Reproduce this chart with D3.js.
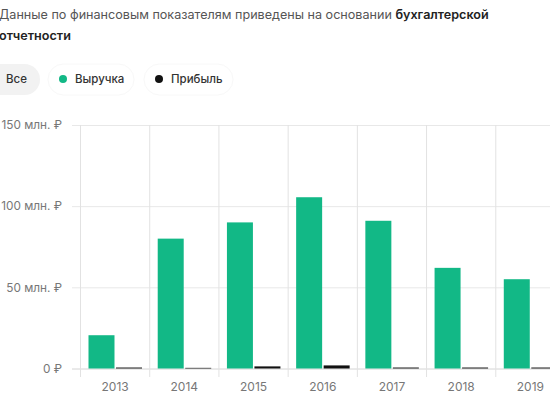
<!DOCTYPE html>
<html>
<head>
<meta charset="utf-8">
<script src="https://cdnjs.cloudflare.com/ajax/libs/d3/7.8.5/d3.min.js"></script>
<style>
  html, body { margin: 0; padding: 0; background: #fff; overflow: hidden; }
  svg { display: block; font-family: Inter, "Noto Sans", sans-serif; }
</style>
</head>
<body>
<svg id="chart" width="550" height="412"></svg>
<script>
var years = ['2013', '2014', '2015', '2016', '2017', '2018', '2019'];
var revenue = [20.5, 80, 90, 105.5, 91, 62, 55];
var profit = [0.6, 0.4, 1.3, 1.9, 0.6, 0.6, 0.6];
var yTicks = [0, 50, 100, 150];
var seriesNames = ['Выручка', 'Прибыль'];
var seriesColors = ['#12b886', '#111111'];

var svg = d3.select('#chart');

// top text
var intro = svg.append('text').attr('x', -1).attr('y', 19)
  .style('font-size', '12.6px').attr('fill', '#555');
intro.append('tspan').text('Данные по финансовым показателям приведены на основании ');
intro.append('tspan').attr('font-weight', 600).attr('fill', '#222').text('бухгалтерской');
svg.append('text').attr('x', -1).attr('y', 40)
  .style('font-size', '12.6px').attr('font-weight', 600).attr('fill', '#222')
  .text('отчетности');

// filter pills
svg.append('rect').attr('x', -20).attr('y', 64).attr('width', 60).attr('height', 31)
  .attr('rx', 15.5).attr('fill', '#f2f2f2');
svg.append('text').attr('x', 6).attr('y', 83).style('font-size', '11.5px')
  .attr('font-weight', 500).attr('fill', '#333').text('Все');

var pillBoxes = [[48, 86], [144, 89]];
seriesNames.forEach(function(name, i) {
  svg.append('rect').attr('x', pillBoxes[i][0]).attr('y', 64)
    .attr('width', pillBoxes[i][1]).attr('height', 31).attr('rx', 15.5)
    .attr('fill', '#fff').attr('stroke', '#f8f8f8');
  svg.append('circle').attr('cx', pillBoxes[i][0] + 15).attr('cy', 79).attr('r', 4)
    .attr('fill', seriesColors[i]);
  svg.append('text').attr('x', pillBoxes[i][0] + 27).attr('y', 83)
    .style('font-size', '11.5px').attr('font-weight', 500).attr('fill', '#333').text(name);
});

// scales, the last band runs off the right edge
var x = d3.scaleBand().domain(years).range([80.5, 565]);
var y = d3.scaleLinear().domain([0, 150]).range([368.5, 125]);

function fmt(d) {
  return d === 0 ? '0 ₽' : d + ' млн. ₽';
}

// horizontal grid + labels
var yAxis = d3.axisLeft(y).tickValues(yTicks).tickFormat(fmt)
  .tickSize(-(565 - 72)).tickPadding(10);
var gy = svg.append('g').attr('transform', 'translate(72,0)').call(yAxis);
gy.select('.domain').remove();
gy.selectAll('line').attr('stroke', function(d) { return d === 0 ? '#d4d4d4' : '#e8e8e8'; });
gy.selectAll('text').style('font-size', '11.8px').attr('fill', '#777')
  .style('font-family', 'Inter, "Noto Sans", sans-serif');

// vertical grid
var gridX = years.map(function(d) { return x(d); }).concat([x.range()[1]]);
svg.append('g').selectAll('line').data(gridX).enter().append('line')
  .attr('x1', function(d) { return d; }).attr('x2', function(d) { return d; })
  .attr('y1', 125).attr('y2', 377)
  .attr('stroke', '#e2e2e2');

// bars
var inner = d3.scaleBand().domain(seriesNames).range([8, 61.5]).paddingInner(0.055);
[revenue, profit].forEach(function(values, s) {
  svg.append('g').selectAll('rect').data(values).enter().append('rect')
    .attr('x', function(d, i) { return x(years[i]) + inner(seriesNames[s]); })
    .attr('y', function(d) { return y(d); })
    .attr('width', inner.bandwidth())
    .attr('height', function(d) { return y(0) - y(d); })
    .attr('fill', seriesColors[s]);
});

// year labels
var xAxis = d3.axisBottom(x).tickSize(0).tickPadding(0);
var gx = svg.append('g').attr('transform', 'translate(0,382)').call(xAxis);
gx.select('.domain').remove();
gx.selectAll('text').style('font-size', '12px').attr('fill', '#777')
  .style('font-family', 'Inter, "Noto Sans", sans-serif');
</script>
</body>
</html>
